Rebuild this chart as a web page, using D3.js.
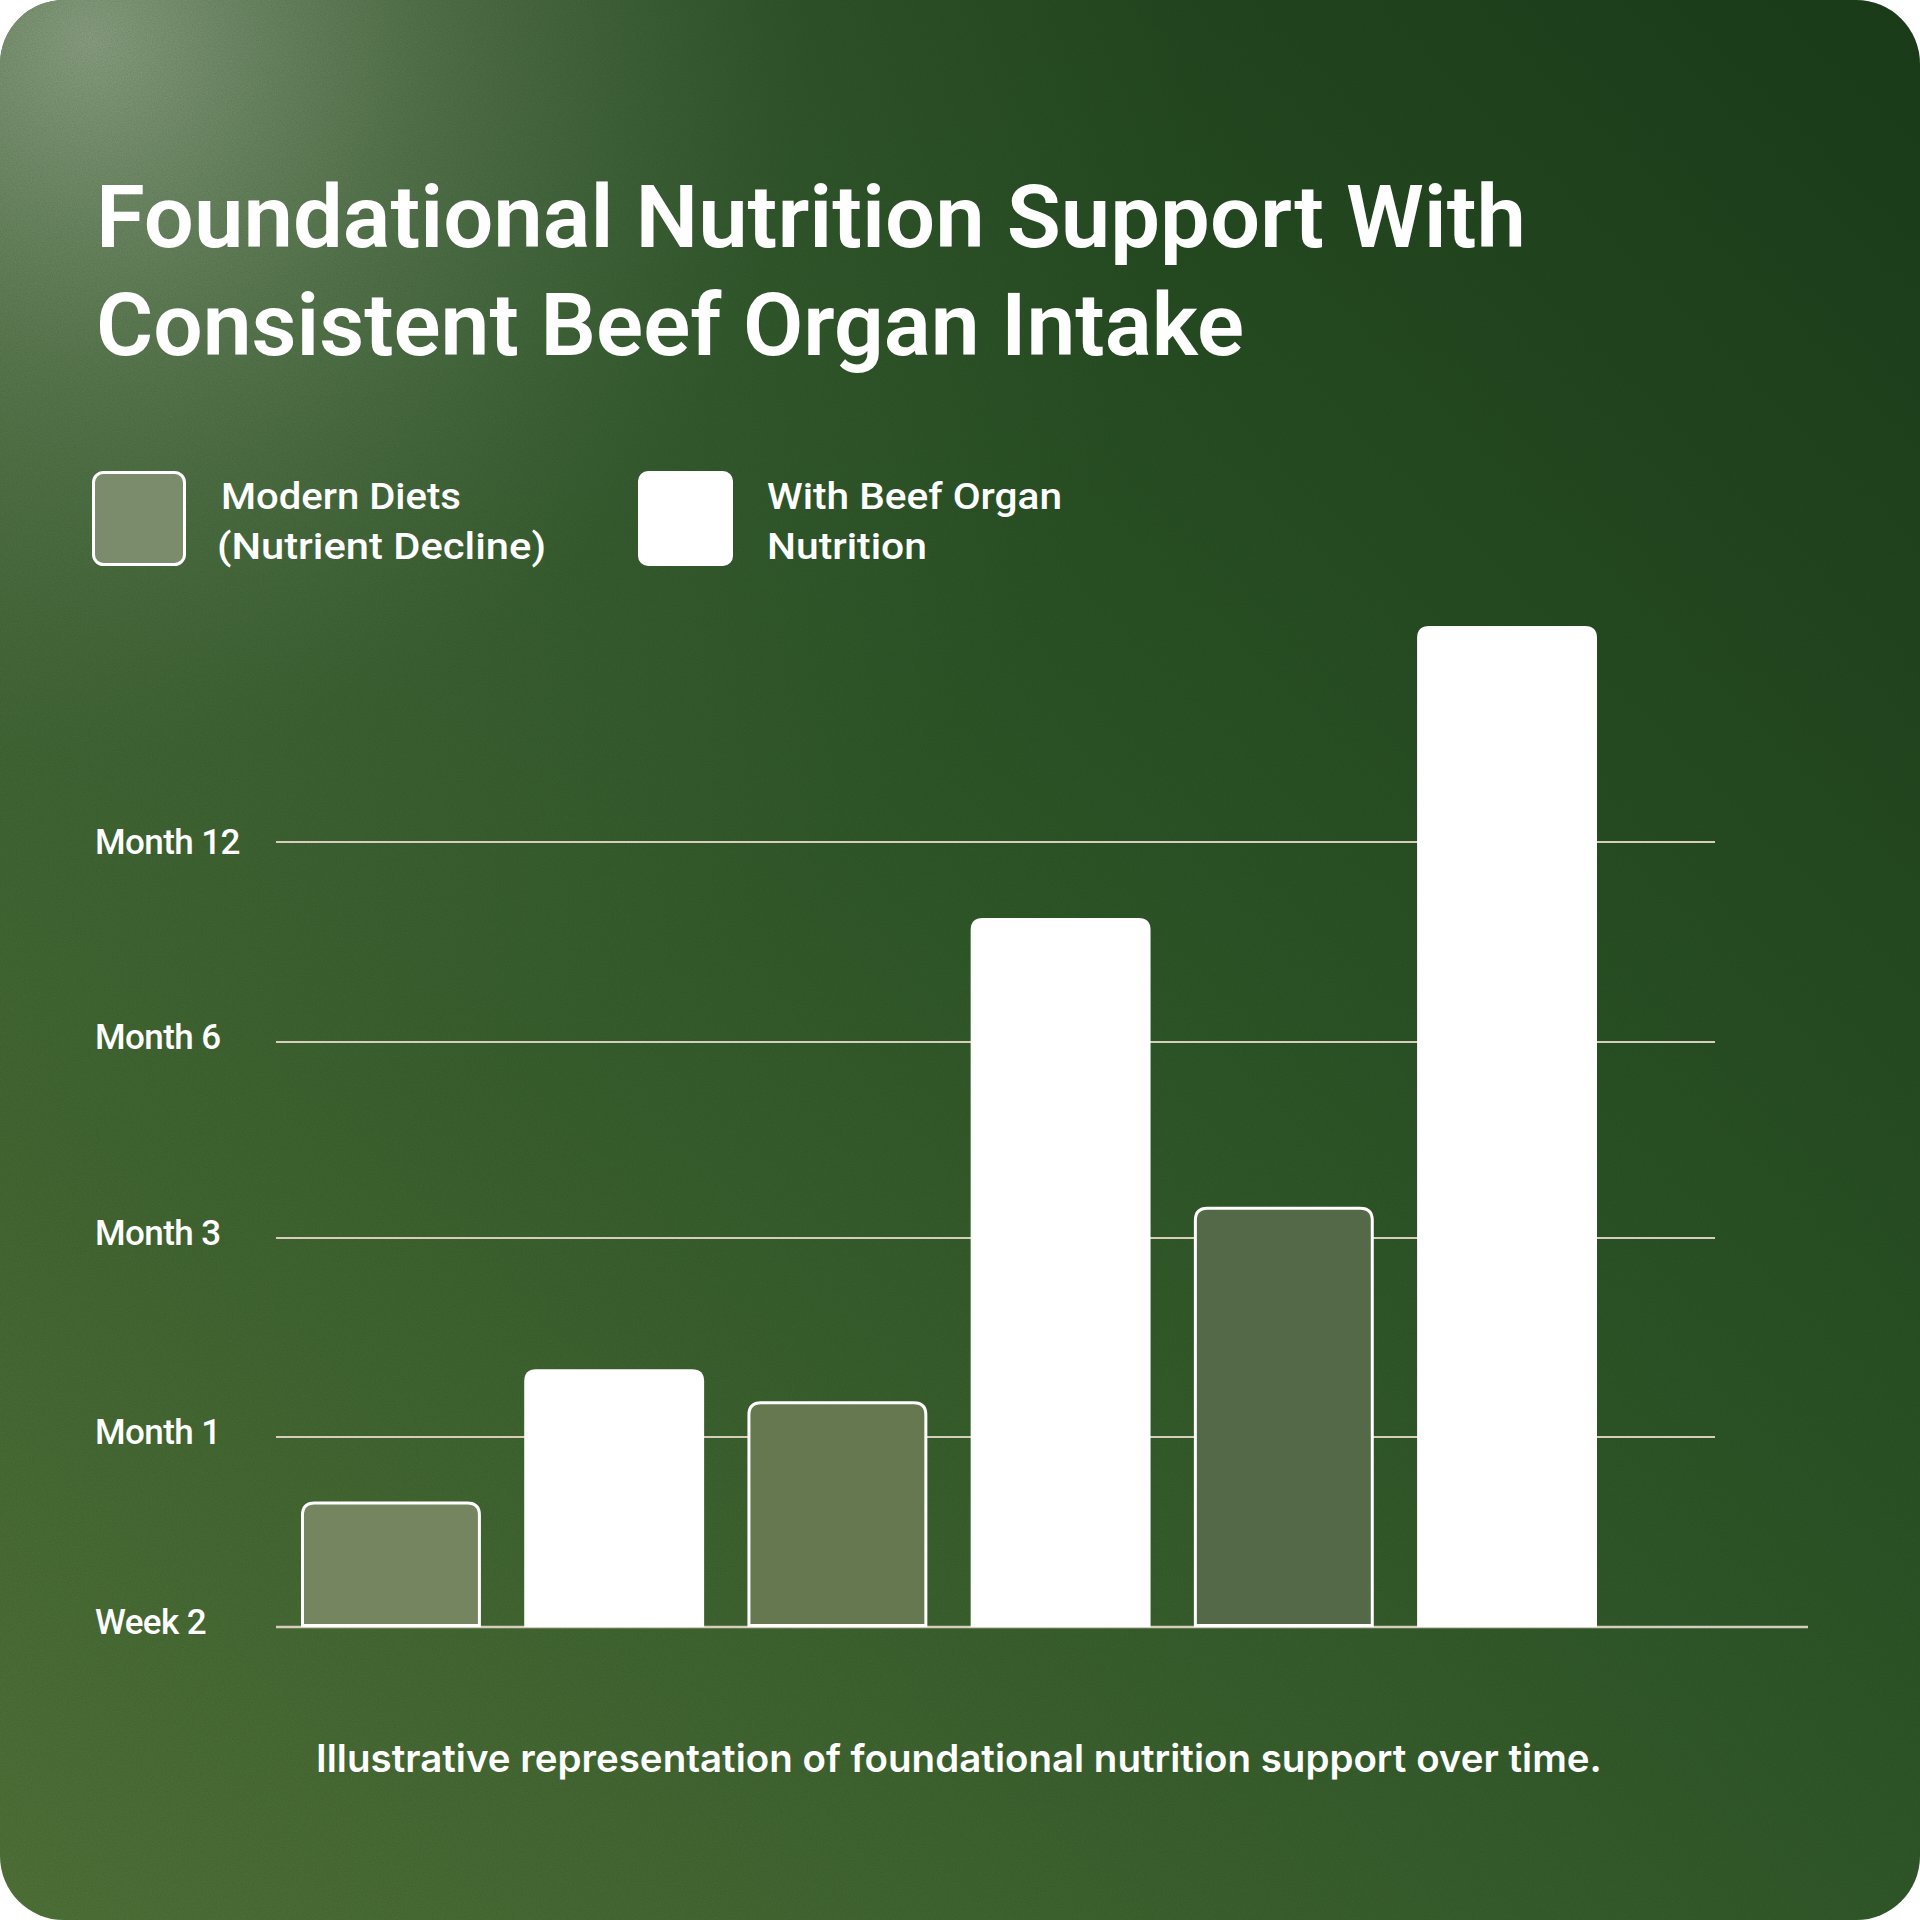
<!DOCTYPE html>
<html>
<head>
<meta charset="utf-8">
<script src="https://cdn.jsdelivr.net/npm/d3@7"></script>
<style>
  body { margin: 0; background: #fff; }
  svg { display: block; }
</style>
</head>
<body>
<div id="chart"></div>
<script>

// --- data ---
const groups = ["g1", "g2", "g3"];
const seriesNames = ["Modern Diets (Nutrient Decline)", "With Beef Organ Nutrition"];
const modernDiets = [0.66, 1.18, 2.16];
const beefOrgan = [1.34, 3.62, 5.08];
const yTickLabels = ["Week 2", "Month 1", "Month 3", "Month 6", "Month 12"];
const titleLines = ["Foundational Nutrition Support With", "Consistent Beef Organ Intake"];
const legendLines = [["Modern Diets", "(Nutrient Decline)"], ["With Beef Organ", "Nutrition"]];
const footnote = "Illustrative representation of foundational nutrition support over time.";

const W = 1920, H = 1920;
const displayFont = "Roboto, 'Noto Sans', sans-serif";

const svg = d3.select("#chart").append("svg")
	.attr("width", W)
	.attr("height", H);

const defs = svg.append("defs");

// background card
defs.append("clipPath").attr("id", "card")
	.append("rect").attr("width", W).attr("height", H).attr("rx", 64);

const bgGrad = defs.append("linearGradient").attr("id", "bg")
	.attr("x1", 1).attr("y1", 0).attr("x2", 0).attr("y2", 1);
bgGrad.append("stop").attr("offset", 0).attr("stop-color", "#1d3a1b");
bgGrad.append("stop").attr("offset", 0.45).attr("stop-color", "#30542a");
bgGrad.append("stop").attr("offset", 1).attr("stop-color", "#55723c");

const glow = defs.append("radialGradient").attr("id", "glow")
	.attr("gradientUnits", "userSpaceOnUse")
	.attr("cx", 90).attr("cy", 40).attr("r", 1100);
glow.append("stop").attr("offset", 0).attr("stop-color", "#a9b49f").attr("stop-opacity", 0.8);
glow.append("stop").attr("offset", 0.3).attr("stop-color", "#8c9b80").attr("stop-opacity", 0.45);
glow.append("stop").attr("offset", 0.65).attr("stop-color", "#6f8264").attr("stop-opacity", 0.12);
glow.append("stop").attr("offset", 1).attr("stop-color", "#6f8264").attr("stop-opacity", 0);

const grain = defs.append("filter").attr("id", "grain")
	.attr("x", 0).attr("y", 0).attr("width", "100%").attr("height", "100%");
grain.append("feTurbulence").attr("type", "fractalNoise")
	.attr("baseFrequency", 0.8).attr("numOctaves", 2).attr("seed", 3);
grain.append("feColorMatrix").attr("type", "matrix")
	.attr("values", "0 0 0 0 0  0 0 0 0 0.05  0 0 0 0 0  0 0 0 0.22 0");

const card = svg.append("g").attr("clip-path", "url(#card)");
card.append("rect").attr("width", W).attr("height", H).attr("fill", "url(#bg)");
card.append("rect").attr("width", W).attr("height", H).attr("fill", "url(#glow)");
card.append("rect").attr("width", W).attr("height", H).attr("filter", "url(#grain)");

// --- title ---
const titleWidths = [1430, 1148];
svg.append("g").selectAll("text")
	.data(titleLines)
	.join("text")
	.attr("x", 96)
	.attr("y", (d, i) => 247 + i * 108)
	.attr("textLength", (d, i) => titleWidths[i])
	.attr("lengthAdjust", "spacingAndGlyphs")
	.attr("fill", "#fff")
	.style("font-family", displayFont)
	.style("font-weight", 600)
	.style("font-size", "88px")
	.text(d => d);

// --- scales ---
const bars = groups.flatMap((g, i) => [
	{ key: g + "-modern", series: 0, group: i, value: modernDiets[i] },
	{ key: g + "-beef", series: 1, group: i, value: beefOrgan[i] }
]);

const xScale = d3.scaleBand()
	.domain(bars.map(d => d.key))
	.range([301, 1597])
	.paddingInner(0.194)
	.paddingOuter(0);

// the time steps are evenly spaced ordinal levels, gridlines sit a few px off even
const yScale = d3.scaleLinear()
	.domain([0, 1, 2, 3, 4])
	.range([1627, 1437, 1238, 1042, 842]);

const color = d3.scaleOrdinal().domain(seriesNames).range(["#7b8c6c", "#ffffff"]);
const modernShades = ["#758560", "#65784f", "#536947"];

// --- grid ---
const grid = svg.append("g");
grid.selectAll("line")
	.data(yTickLabels.slice(1))
	.join("line")
	.attr("x1", 276)
	.attr("x2", 1715)
	.attr("y1", (d, i) => yScale(i + 1))
	.attr("y2", (d, i) => yScale(i + 1))
	.attr("stroke", "#d6cdbb")
	.attr("stroke-width", 2);

grid.append("line")
	.attr("x1", 276).attr("x2", 1808)
	.attr("y1", yScale(0)).attr("y2", yScale(0))
	.attr("stroke", "#d6cdbb")
	.attr("stroke-width", 2.5);

svg.append("g").selectAll("text")
	.data(yTickLabels)
	.join("text")
	.attr("x", 95)
	.attr("y", (d, i) => yScale(i) + (i === 4 ? 12 : 7))
	.attr("fill", "#fff")
	.style("font-family", displayFont)
	.style("font-weight", 500)
	.style("font-size", "35px")
	.style("letter-spacing", "-0.6px")
	.text(d => d);

// --- bars ---
function topRounded(x, y, w, h, r) {
	return `M${x},${y + h} V${y + r} Q${x},${y} ${x + r},${y} H${x + w - r} Q${x + w},${y} ${x + w},${y + r} V${y + h} Z`;
}

svg.append("g").selectAll("path")
	.data(bars)
	.join("path")
	.attr("d", d => {
		const inset = d.series === 0 ? 1.5 : 0;
		const x = xScale(d.key) + inset;
		const y = yScale(d.value) + inset;
		const w = xScale.bandwidth() - inset * 2;
		const h = yScale(0) - yScale(d.value) - inset * 2;
		return topRounded(x, y, w, h, 12);
	})
	.attr("fill", d => d.series === 0 ? modernShades[d.group] : color(seriesNames[1]))
	.attr("stroke", d => d.series === 0 ? "#fff" : "none")
	.attr("stroke-width", 3);

// --- legend ---
const legendWidths = [[240, 329], [295, 160]];
const legend = svg.append("g").selectAll("g")
	.data(seriesNames)
	.join("g")
	.attr("transform", (d, i) => `translate(${i === 0 ? 92 : 638}, 471)`);

legend.append("rect")
	.attr("x", d => d === seriesNames[0] ? 1.5 : 0)
	.attr("y", d => d === seriesNames[0] ? 1.5 : 0)
	.attr("width", d => d === seriesNames[0] ? 91 : 95)
	.attr("height", d => d === seriesNames[0] ? 92 : 95)
	.attr("rx", 10)
	.attr("fill", d => color(d))
	.attr("stroke", d => d === seriesNames[0] ? "#fff" : "none")
	.attr("stroke-width", 3);

legend.selectAll("text")
	.data((d, i) => legendLines[i].map((t, j) => ({ t, w: legendWidths[i][j] })))
	.join("text")
	.attr("x", (d, j) => j === 1 && d.t.startsWith("(") ? 125 : 129)
	.attr("y", (d, j) => 38 + j * 50)
	.attr("textLength", d => d.w)
	.attr("lengthAdjust", "spacingAndGlyphs")
	.attr("fill", "#fff")
	.style("font-family", displayFont)
	.style("font-weight", 500)
	.style("font-size", "37px")
	.text(d => d.t);

// --- footnote ---
svg.append("text")
	.attr("x", 959)
	.attr("y", 1772)
	.attr("text-anchor", "middle")
	.attr("fill", "#fff")
	.style("font-family", "Inter, 'Open Sans', sans-serif")
	.style("font-weight", 600)
	.style("font-size", "38.5px")
	.text(footnote);

</script>
</body>
</html>
